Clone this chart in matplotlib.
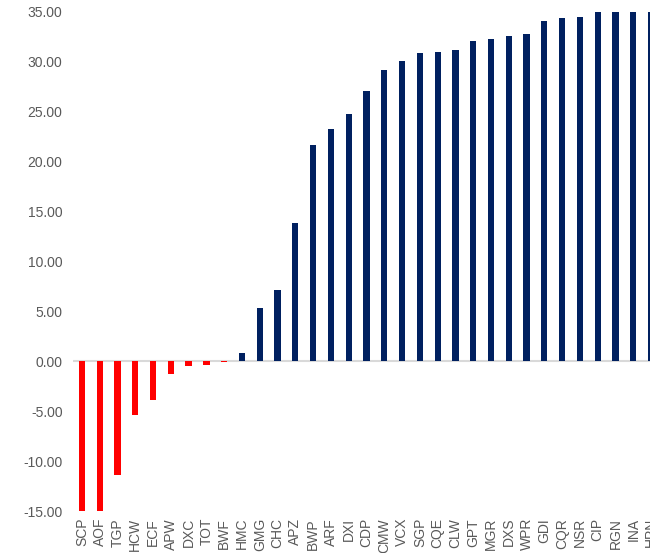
import numpy as np
import matplotlib
matplotlib.use("Agg")
import matplotlib.pyplot as plt
from matplotlib.ticker import FormatStrFormatter

codes = ['SCP', 'AOF', 'TGP', 'HCW', 'ECF', 'APW', 'DXC', 'TOT', 'BWF', 'HMC',
         'GMG', 'CHC', 'APZ', 'BWP', 'ARF', 'DXI', 'CDP', 'CMW', 'VCX', 'SGP',
         'CQE', 'CLW', 'GPT', 'MGR', 'DXS', 'WPR', 'GDI', 'CQR', 'NSR', 'CIP',
         'RGN', 'INA', 'HPN']
values = [-16.0, -15.5, -11.4, -5.4, -3.9, -1.3, -0.5, -0.4, -0.05, 0.8,
          5.35, 7.15, 13.8, 21.6, 23.25, 24.75, 27.0, 29.1, 30.0, 30.8,
          30.95, 31.1, 32.05, 32.2, 32.5, 32.75, 34.05, 34.35, 34.4, 35.5,
          36.0, 36.5, 37.0]

plt.rcParams['font.family'] = ['Liberation Sans', 'DejaVu Sans']

fig = plt.figure(figsize=(6.5, 5.53), dpi=100)
ax = fig.add_axes([0.1123, 0.0759, 0.903, 0.9033])

x = np.arange(len(codes))
colors = ['#FF0000' if v < 0 else '#002060' for v in values]
ax.bar(x, values, width=0.35, color=colors, zorder=2)
ax.axhline(0, color='#d9d9d9', linewidth=1.5, zorder=1)

ax.set_xlim(-0.5, len(codes) - 0.5)
ax.set_ylim(-15, 35)
ax.set_yticks(np.arange(-15, 36, 5))
ax.yaxis.set_major_formatter(FormatStrFormatter('%.2f'))
ax.set_xticks(x)
ax.set_xticklabels(codes, rotation=90)
ax.tick_params(axis='both', length=0, labelsize=10, colors='#595959')
ax.tick_params(axis='y', pad=7.5)
ax.tick_params(axis='x', pad=5)
for s in ax.spines.values():
    s.set_visible(False)

fig.savefig('out.png', dpi=100)
